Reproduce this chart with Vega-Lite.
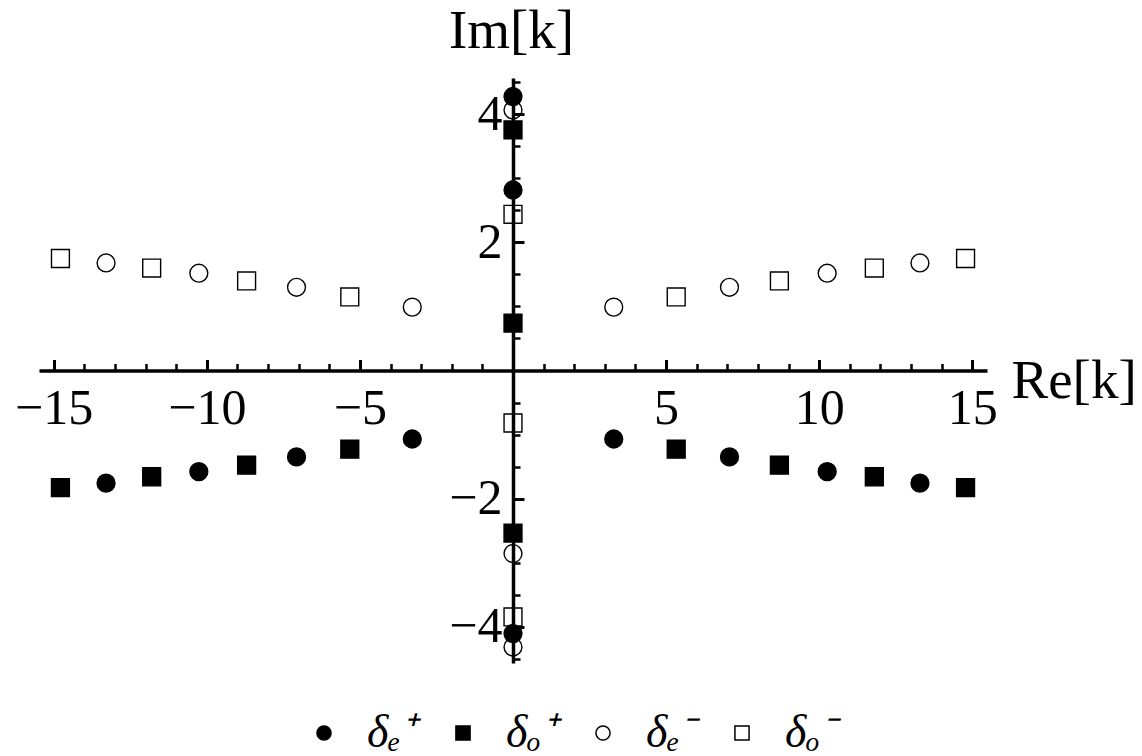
{
  "$schema": "https://vega.github.io/schema/vega-lite/v6.json",
  "autosize": {"type": "none"},
  "width": 948,
  "height": 585,
  "padding": {"left": 39, "top": 78, "right": 155, "bottom": 93},
  "background": "white",
  "config": {
    "view": {"stroke": null},
    "font": "Liberation Serif",
    "axis": {"labelFont": "Liberation Serif", "titleFont": "Liberation Serif", "labelColor": "black", "titleColor": "black", "domainColor": "black", "tickColor": "black", "grid": false},
    "legend": {"labelFont": "Liberation Serif"}
  },
  "data": {
    "values": [
      {"s": "δₑ⁺", "re": 0, "im": 4.28},
      {"s": "δₑ⁺", "re": 0, "im": 2.82},
      {"s": "δₑ⁺", "re": 0, "im": -4.11},
      {"s": "δₑ⁺", "re": 3.29, "im": -1.07},
      {"s": "δₑ⁺", "re": -3.29, "im": -1.07},
      {"s": "δₑ⁺", "re": 7.07, "im": -1.35},
      {"s": "δₑ⁺", "re": -7.07, "im": -1.35},
      {"s": "δₑ⁺", "re": 10.26, "im": -1.58},
      {"s": "δₑ⁺", "re": -10.26, "im": -1.58},
      {"s": "δₑ⁺", "re": 13.29, "im": -1.76},
      {"s": "δₑ⁺", "re": -13.29, "im": -1.76},
      {"s": "δₒ⁺", "re": 0, "im": 3.76},
      {"s": "δₒ⁺", "re": 0, "im": 0.74},
      {"s": "δₒ⁺", "re": 0, "im": -2.54},
      {"s": "δₒ⁺", "re": 5.33, "im": -1.23},
      {"s": "δₒ⁺", "re": -5.33, "im": -1.23},
      {"s": "δₒ⁺", "re": 8.7, "im": -1.48},
      {"s": "δₒ⁺", "re": -8.7, "im": -1.48},
      {"s": "δₒ⁺", "re": 11.8, "im": -1.66},
      {"s": "δₒ⁺", "re": -11.8, "im": -1.66},
      {"s": "δₒ⁺", "re": 14.78, "im": -1.83},
      {"s": "δₒ⁺", "re": -14.78, "im": -1.83},
      {"s": "δₑ⁻", "re": 0, "im": 4.07},
      {"s": "δₑ⁻", "re": 0, "im": -2.86},
      {"s": "δₑ⁻", "re": 0, "im": -4.32},
      {"s": "δₑ⁻", "re": 3.29, "im": 0.99},
      {"s": "δₑ⁻", "re": -3.29, "im": 0.99},
      {"s": "δₑ⁻", "re": 7.07, "im": 1.3},
      {"s": "δₑ⁻", "re": -7.07, "im": 1.3},
      {"s": "δₑ⁻", "re": 10.26, "im": 1.52},
      {"s": "δₑ⁻", "re": -10.26, "im": 1.52},
      {"s": "δₑ⁻", "re": 13.29, "im": 1.68},
      {"s": "δₑ⁻", "re": -13.29, "im": 1.68},
      {"s": "δₒ⁻", "re": 0, "im": 2.44},
      {"s": "δₒ⁻", "re": 0, "im": -0.82},
      {"s": "δₒ⁻", "re": 0, "im": -3.85},
      {"s": "δₒ⁻", "re": 5.33, "im": 1.15},
      {"s": "δₒ⁻", "re": -5.33, "im": 1.15},
      {"s": "δₒ⁻", "re": 8.7, "im": 1.4},
      {"s": "δₒ⁻", "re": -8.7, "im": 1.4},
      {"s": "δₒ⁻", "re": 11.8, "im": 1.6},
      {"s": "δₒ⁻", "re": -11.8, "im": 1.6},
      {"s": "δₒ⁻", "re": 14.78, "im": 1.75},
      {"s": "δₒ⁻", "re": -14.78, "im": 1.75}
    ]
  },
  "layer": [
    {
      "mark": {"type": "point", "filled": false, "opacity": 0},
      "encoding": {
        "x": {"datum": 0, "type": "quantitative", "scale": {"domain": [-15.48, 15.48], "nice": false, "zero": false},
          "axis": {"orient": "bottom", "offset": -292.5, "values": [-14, -13, -12, -11, -9, -8, -7, -6, -4, -3, -2, -1, 1, 2, 3, 4, 6, 7, 8, 9, 11, 12, 13, 14], "labels": false, "domain": false, "tickSize": -7, "tickWidth": 2.5, "title": null}},
        "y": {"datum": 0, "type": "quantitative", "scale": {"domain": [-4.57, 4.57], "nice": false, "zero": false},
          "axis": {"orient": "left", "offset": -474, "values": [-4.5, -3.5, -3, -2.5, -1.5, -1, -0.5, 0.5, 1, 1.5, 2.5, 3, 3.5, 4.5], "labels": false, "domain": false, "tickSize": -7, "tickWidth": 2.5, "title": null}}
      }
    },
    {
      "mark": {"type": "point", "filled": true, "stroke": "black", "strokeWidth": 1.4, "size": 320, "opacity": 1},
      "encoding": {
        "x": {"field": "re", "type": "quantitative", "scale": {"domain": [-15.48, 15.48], "nice": false, "zero": false},
          "axis": {"orient": "bottom", "offset": -292.5, "values": [-15, -10, -5, 5, 10, 15], "tickSize": -11, "tickWidth": 3, "domainWidth": 3.5, "labelFont": "'Liberation Serif', 'Times New Roman', serif", "labelFontSize": 50, "labelPadding": 24, "labelFlush": false, "labelOverlap": false,
            "title": "Re[k]", "titleFont": "Liberation Serif", "titleFontSize": 55, "titleFontWeight": "normal", "titleX": 972, "titleY": 27, "titleAlign": "left", "titleBaseline": "alphabetic", "titleAnchor": null}},
        "y": {"field": "im", "type": "quantitative", "scale": {"domain": [-4.57, 4.57], "nice": false, "zero": false},
          "axis": {"orient": "left", "offset": -474, "values": [-4, -2, 2, 4], "tickSize": -11, "tickWidth": 3, "domainWidth": 3.5, "labelFont": "'Liberation Serif', 'Times New Roman', serif", "labelFontSize": 50, "labelPadding": 22, "labelFlush": false, "labelOverlap": false,
            "title": "Im[k]", "titleFont": "Liberation Serif", "titleFontSize": 55, "titleFontWeight": "normal", "titleX": -2, "titleY": -31, "titleAngle": 0, "titleAlign": "center", "titleBaseline": "alphabetic", "titleAnchor": null}},
        "shape": {"field": "s", "type": "nominal", "scale": {"domain": ["δₑ⁺", "δₒ⁺", "δₑ⁻", "δₒ⁻"], "range": ["circle", "square", "circle", "square"]},
          "legend": {"title": null, "orient": "none", "legendX": 262, "legendY": 632, "direction": "horizontal", "columns": 4, "symbolSize": 200, "labelFontSize": 46, "labelFont": "Liberation Serif", "labelFontStyle": "italic", "labelColor": "black", "labelOffset": 20, "columnPadding": 23,
            "encode": {"symbols": {"update": {"stroke": {"value": "black"}, "strokeWidth": {"value": 1.2}}}}}},
        "fill": {"field": "s", "type": "nominal", "scale": {"domain": ["δₑ⁺", "δₒ⁺", "δₑ⁻", "δₒ⁻"], "range": ["black", "black", "transparent", "transparent"]},
          "legend": {"title": null, "orient": "none", "legendX": 262, "legendY": 632, "direction": "horizontal", "columns": 4, "symbolSize": 200, "labelFontSize": 46, "labelFont": "Liberation Serif", "labelFontStyle": "italic", "labelColor": "black", "labelOffset": 20, "columnPadding": 23,
            "encode": {"symbols": {"update": {"stroke": {"value": "black"}, "strokeWidth": {"value": 1.2}}}}}}
      }
    }
  ],
  "resolve": {"axis": {"x": "independent", "y": "independent"}}
}
